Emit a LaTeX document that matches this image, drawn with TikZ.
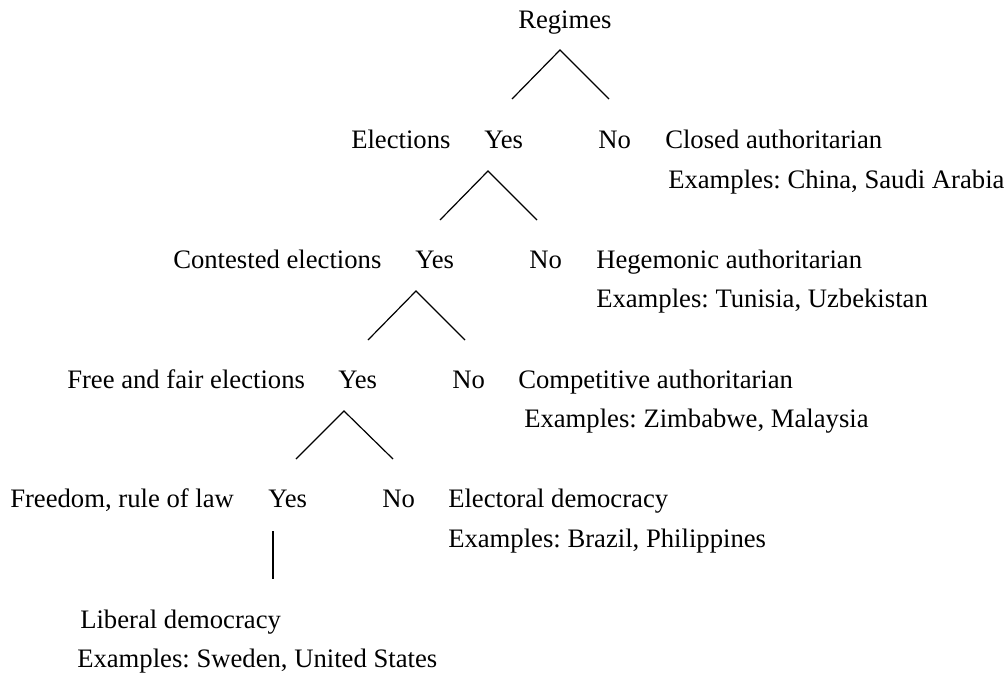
\documentclass[tikz,border=0pt]{standalone}
\usepackage{fontspec}
\setmainfont{Liberation Serif}
\usepackage{tikz}
\frenchspacing
\tikzstyle{txt} = [anchor=base west, inner sep=0pt, font=\fontsize{20}{24}\selectfont]
\tikzstyle{branch} = [line width=0.9pt]

\begin{document}
\begin{tikzpicture}[x=0.75pt, y=-0.75pt]

    \useasboundingbox (0,0) rectangle (1008,675);

    \node (regimes) [txt] at (518,28) {Regimes};

    \node (elec) [txt] at (351,148) {Elections};
    \node (elecYes) [txt] at (484,148) {Yes};
    \node (elecNo) [txt] at (598,148) {No};
    \node (closed) [txt] at (665,148) {Closed authoritarian};
    \node (closedEx) [txt] at (668,188) {Examples: China, Saudi Arabia};

    \node (contest) [txt] at (173,268) {Contested elections};
    \node (contestYes) [txt] at (415,268) {Yes};
    \node (contestNo) [txt] at (529,268) {No};
    \node (hegem) [txt] at (596,268) {Hegemonic authoritarian};
    \node (hegemEx) [txt] at (596,307) {Examples: Tunisia, Uzbekistan};

    \node (fair) [txt] at (67,388) {Free and fair elections};
    \node (fairYes) [txt] at (338,388) {Yes};
    \node (fairNo) [txt] at (452,388) {No};
    \node (compet) [txt] at (518,388) {Competitive authoritarian};
    \node (competEx) [txt] at (524,427) {Examples: Zimbabwe, Malaysia};

    \node (law) [txt] at (10,507) {Freedom, rule of law};
    \node (lawYes) [txt] at (268,507) {Yes};
    \node (lawNo) [txt] at (382,507) {No};
    \node (electoral) [txt] at (448,507) {Electoral democracy};
    \node (electoralEx) [txt] at (448,547) {Examples: Brazil, Philippines};

    \node (liberal) [txt] at (80,628) {Liberal democracy};
    \node (liberalEx) [txt] at (77,667) {Examples: Sweden, United States};

    \coordinate (top1) at (560,50);
    \coordinate (left1) at (512,99);
    \coordinate (right1) at (609,99);
    \coordinate (top2) at (488,171);
    \coordinate (left2) at (440,220);
    \coordinate (right2) at (537,220);
    \coordinate (top3) at (416,291);
    \coordinate (left3) at (368,340);
    \coordinate (right3) at (465,340);
    \coordinate (top4) at (344,411);
    \coordinate (left4) at (296,459);
    \coordinate (right4) at (393,459);
    \coordinate (stemTop) at (273,531);
    \coordinate (stemEnd) at (273,579);

    \draw[branch] (left1) -- (top1) -- (right1);
    \draw[branch] (left2) -- (top2) -- (right2);
    \draw[branch] (left3) -- (top3) -- (right3);
    \draw[branch] (left4) -- (top4) -- (right4);
    \draw[branch] (stemTop) -- (stemEnd);

\end{tikzpicture}
\end{document}
